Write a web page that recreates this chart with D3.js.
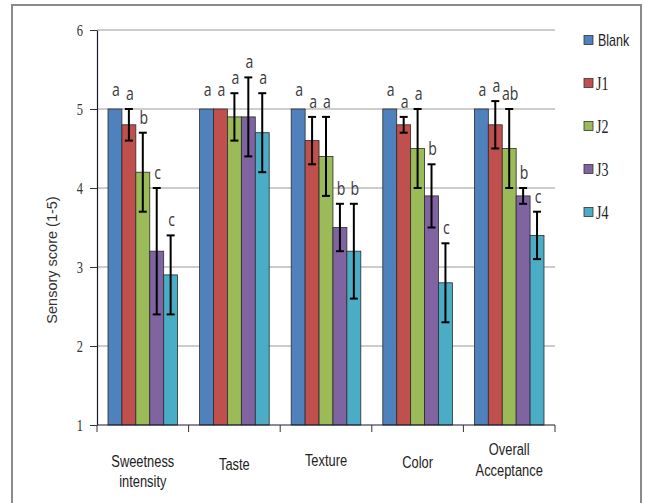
<!DOCTYPE html>
<html>
<head>
<meta charset="utf-8">
<script src="https://cdn.jsdelivr.net/npm/d3@7/dist/d3.min.js"></script>
<style>
  html, body { margin: 0; padding: 0; background: #fff; }
  svg { display: block; }
  .serif { font-family: "Liberation Serif", "Times New Roman", Times, "DejaVu Serif", serif; }
  .sans { font-family: "Liberation Sans", Arial, Helvetica, sans-serif; }
  .letter { font-family: "Open Sans", "Noto Sans", sans-serif; }
</style>
</head>
<body>
<svg id="chart" width="645" height="503"></svg>
<script>
// Sensory attributes (x categories) and the five formulations
const categories = ["Sweetness intensity", "Taste", "Texture", "Color", "Overall Acceptance"];
const categoryLines = [["Sweetness", "intensity"], ["Taste"], ["Texture"], ["Color"], ["Overall", "Acceptance"]];
const seriesNames = ["Blank", "J1", "J2", "J3", "J4"];

// Mean scores per series, one value per category
const blankValues = [5.0, 5.0, 5.0, 5.0, 5.0];
const j1Values    = [4.8, 5.0, 4.6, 4.8, 4.8];
const j2Values    = [4.2, 4.9, 4.4, 4.5, 4.5];
const j3Values    = [3.2, 4.9, 3.5, 3.9, 3.9];
const j4Values    = [2.9, 4.7, 3.2, 2.8, 3.4];

// Standard deviations (error bar half-lengths)
const blankErrors = [0, 0, 0, 0, 0];
const j1Errors    = [0.2, 0, 0.3, 0.1, 0.3];
const j2Errors    = [0.5, 0.3, 0.5, 0.5, 0.5];
const j3Errors    = [0.8, 0.5, 0.3, 0.4, 0.1];
const j4Errors    = [0.5, 0.5, 0.6, 0.5, 0.3];

// Significance letters
const blankLetters = ["a", "a", "a", "a", "a"];
const j1Letters    = ["a", "a", "a", "a", "a"];
const j2Letters    = ["b", "a", "a", "a", "ab"];
const j3Letters    = ["c", "a", "b", "b", "b"];
const j4Letters    = ["c", "a", "b", "c", "c"];

const yTicks = [1, 2, 3, 4, 5, 6];
const colors = ["#4F81BD", "#C0504D", "#9BBB59", "#8064A2", "#4BACC6"];

const valueSets = [blankValues, j1Values, j2Values, j3Values, j4Values];
const errorSets = [blankErrors, j1Errors, j2Errors, j3Errors, j4Errors];
const letterSets = [blankLetters, j1Letters, j2Letters, j3Letters, j4Letters];

const rows = [];
categories.forEach((c, ci) => {
  seriesNames.forEach((s, si) => {
    rows.push({
      category: c, series: s, si,
      value: valueSets[si][ci],
      err: errorSets[si][ci],
      letter: letterSets[si][ci]
    });
  });
});

const svg = d3.select("#chart");
const NARROW = 0.78; // horizontal squeeze applied to all text

// Outer frame
svg.append("rect")
  .attr("x", 12).attr("y", 5)
  .attr("width", 629).attr("height", 510)
  .attr("fill", "none").attr("stroke", "#8a8a8a").attr("stroke-width", 2);

const plot = { left: 97, right: 555, top: 30, bottom: 425 };

const x0 = d3.scaleBand().domain(categories).range([plot.left, plot.right]).padding(0);
const x1 = d3.scaleBand().domain(seriesNames).range([11, x0.bandwidth() - 11]).padding(0);
const y = d3.scaleLinear().domain([1, 6]).range([plot.bottom, plot.top]);
const color = d3.scaleOrdinal().domain(seriesNames).range(colors);

// Horizontal gridlines
svg.append("g")
  .selectAll("line")
  .data(yTicks.filter(t => t > 1))
  .join("line")
  .attr("x1", plot.left).attr("x2", plot.right)
  .attr("y1", d => y(d)).attr("y2", d => y(d))
  .attr("stroke", "#9a9a9a").attr("stroke-width", 1);

// Bars
svg.append("g")
  .selectAll("rect")
  .data(rows)
  .join("rect")
  .attr("x", d => x0(d.category) + x1(d.series))
  .attr("y", d => y(d.value))
  .attr("width", x1.bandwidth())
  .attr("height", d => y(1) - y(d.value))
  .attr("fill", d => color(d.series))
  .attr("stroke", "#2b2b2b").attr("stroke-width", 0.8);

// Error bars
const eb = svg.append("g")
  .selectAll("g")
  .data(rows.filter(d => d.err > 0))
  .join("g")
  .attr("stroke", "#000").attr("stroke-width", 2);
const cx = d => x0(d.category) + x1(d.series) + x1.bandwidth() / 2;
eb.append("line")
  .attr("x1", cx).attr("x2", cx)
  .attr("y1", d => y(d.value + d.err)).attr("y2", d => y(d.value - d.err));
eb.append("line")
  .attr("x1", d => cx(d) - 4).attr("x2", d => cx(d) + 4)
  .attr("y1", d => y(d.value + d.err)).attr("y2", d => y(d.value + d.err));
eb.append("line")
  .attr("x1", d => cx(d) - 4).attr("x2", d => cx(d) + 4)
  .attr("y1", d => y(d.value - d.err)).attr("y2", d => y(d.value - d.err));

// Significance letters
svg.append("g")
  .selectAll("text")
  .data(rows)
  .join("text")
  .attr("class", "letter")
  .attr("transform", d => `translate(${cx(d) + 1},${y(d.value + d.err) - (d.err > 0 ? 9 : 13)}) scale(${NARROW},1)`)
  .attr("text-anchor", "middle")
  .attr("font-size", 18)
  .attr("fill", "#3a3a3a")
  .text(d => d.letter);

// Y axis
const yAxis = d3.axisLeft(y).tickValues(yTicks).tickSize(7).tickSizeOuter(0).tickPadding(7).tickFormat(d3.format("d"));
const yg = svg.append("g").attr("transform", `translate(${plot.left},0)`).call(yAxis);
yg.attr("font-family", null).attr("font-size", null);
yg.select(".domain").attr("stroke", "#1a1a2e").attr("stroke-width", 1.2);
yg.selectAll(".tick line").attr("stroke", "#333");
yg.selectAll(".tick text")
  .attr("class", "serif")
  .attr("transform", `translate(-14,0) scale(${NARROW},1)`)
  .attr("x", 0)
  .attr("font-size", 16).attr("fill", "#333");

// X axis: tick marks at category boundaries
const xg = svg.append("g");
xg.append("line")
  .attr("x1", plot.left).attr("x2", plot.right)
  .attr("y1", plot.bottom).attr("y2", plot.bottom)
  .attr("stroke", "#1a1a2e").attr("stroke-width", 1.2);
const boundaries = categories.map(c => x0(c)).concat([plot.right]);
xg.selectAll("line.tk")
  .data(boundaries)
  .join("line").attr("class", "tk")
  .attr("x1", d => d).attr("x2", d => d)
  .attr("y1", plot.bottom).attr("y2", plot.bottom + 7)
  .attr("stroke", "#333").attr("stroke-width", 1);

// Category labels
const catBaselines = [[467, 487], [470], [466], [468], [455, 476]];
categories.forEach((c, ci) => {
  categoryLines[ci].forEach((line, li) => {
    svg.append("text")
      .attr("class", "sans")
      .attr("transform", `translate(${x0(c) + x0.bandwidth() / 2},${catBaselines[ci][li]}) scale(${NARROW},1)`)
      .attr("text-anchor", "middle")
      .attr("font-size", 16.5)
      .attr("fill", "#222")
      .text(line);
  });
});

// Y axis title
svg.append("text")
  .attr("class", "sans")
  .attr("transform", "translate(57,260) rotate(-90)")
  .attr("text-anchor", "middle")
  .attr("font-size", 14.5)
  .attr("fill", "#333")
  .text("Sensory score (1-5)");

// Legend
const legend = svg.append("g")
  .selectAll("g")
  .data(seriesNames)
  .join("g")
  .attr("transform", (d, i) => `translate(584,${40 + i * 43})`);
legend.append("rect")
  .attr("x", 0).attr("y", -4.5)
  .attr("width", 9).attr("height", 9)
  .attr("fill", d => color(d))
  .attr("stroke", "#333").attr("stroke-width", 0.8);
legend.append("text")
  .attr("class", d => d === "Blank" ? "sans" : "serif")
  .attr("transform", d => `translate(${d === "Blank" ? 14 : 12},${d === "Blank" ? 5.5 : 7}) scale(${NARROW},1)`)
  .attr("font-size", d => d === "Blank" ? 16 : 18)
  .attr("fill", "#222")
  .text(d => d);
</script>
</body>
</html>
